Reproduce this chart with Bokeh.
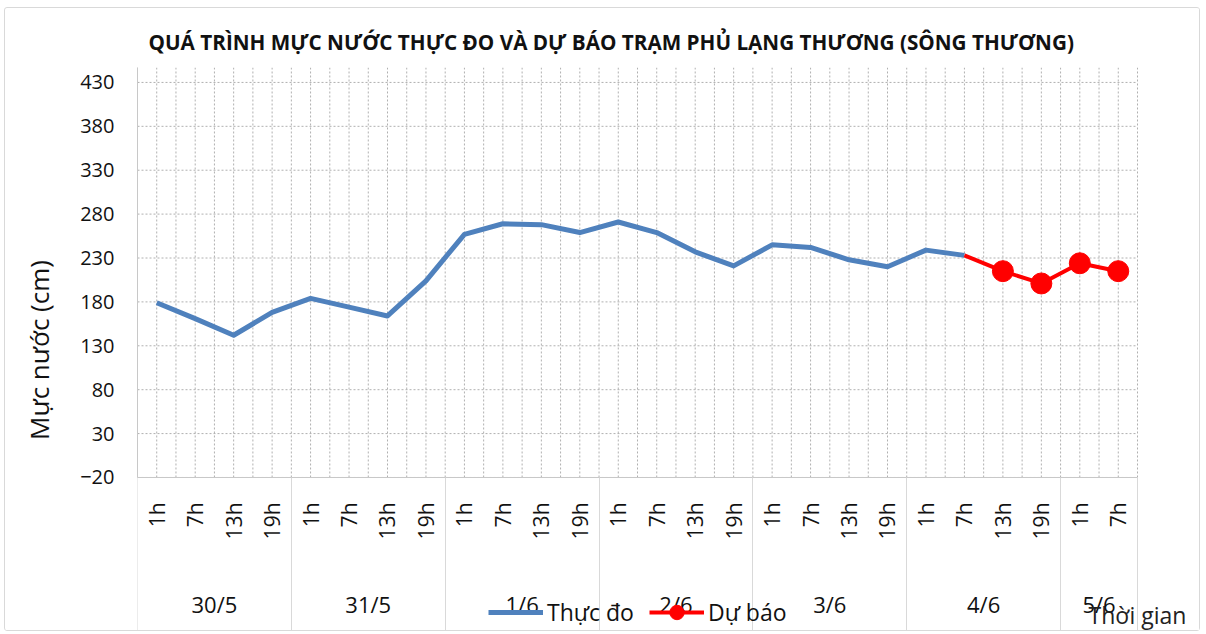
import math
from bokeh.plotting import figure
from bokeh.models import (Range1d, LinearAxis, FixedTicker, Legend, LegendItem)
from bokeh.embed import file_html
from bokeh.resources import INLINE

# ---------------- data ----------------
days = ["30/5", "31/5", "1/6", "2/6", "3/6", "4/6", "5/6"]
day_hours = [
    ["1h", "7h", "13h", "19h"],
    ["1h", "7h", "13h", "19h"],
    ["1h", "7h", "13h", "19h"],
    ["1h", "7h", "13h", "19h"],
    ["1h", "7h", "13h", "19h"],
    ["1h", "7h", "13h", "19h"],
    ["1h", "7h"],
]
observed = [179, 161, 142, 168, 184, 174, 164, 204, 257, 269, 268, 259,
            271, 259, 237, 221, 245, 242, 228, 220, 239, 233]
forecast_start = 21          # index of the first forecast category
forecast = [233, 215, 201, 224, 215]
y_ticks = [-20, 30, 80, 130, 180, 230, 280, 330, 380, 430]

title_text = "QUÁ TRÌNH MỰC NƯỚC THỰC ĐO VÀ DỰ BÁO TRẠM PHỦ LẠNG THƯƠNG (SÔNG THƯƠNG)"
y_label = "Mực nước (cm)"
x_label = "Thời gian"
obs_name = "Thực đo"
fc_name = "Dự báo"

# ---------------- derived category positions ----------------
hour_labels = [h for hs in day_hours for h in hs]
n_cat = len(hour_labels)
centers = [i + 0.5 for i in range(n_cat)]
bounds = [0]
for hs in day_hours:
    bounds.append(bounds[-1] + len(hs))
group_centers = [(bounds[i] + bounds[i + 1]) / 2 for i in range(len(days))]
half_steps = [k / 2 for k in range(2 * n_cat + 1)]

obs_x = centers[:len(observed)]
fc_x = centers[forecast_start:forecast_start + len(forecast)]

FONT = "Open Sans"
GRID_COLOR = "#b0b0b0"
AXIS_COLOR = "#c8c8c8"
TXT = "#111111"

# The frame runs down to the bottom and out to the right edge of the chart so
# that the category labels, legend and x title are drawn inside it; the plot
# area proper is x 0..n_cat, y y_ticks[0]..Y_TOP.
Y_TOP = 447
AXIS_ZONE = 155                      # px below the plot area for category labels
PX_PER_UNIT = 395 / 450              # 430 -> 82 px, -20 -> 477 px
Y_BOTTOM = y_ticks[0] - AXIS_ZONE / PX_PER_UNIT
PX_PER_CAT = 1000 / n_cat
RIGHT_ZONE = 64                      # px right of the plot area
X_END = n_cat + RIGHT_ZONE / PX_PER_CAT

p = figure(width=1196, height=624, output_backend="svg", toolbar_location=None,
           x_range=Range1d(0, X_END), y_range=Range1d(Y_BOTTOM, Y_TOP),
           x_axis_type=None, y_axis_type=None,
           min_border_left=132, min_border_right=0, min_border_top=59,
           min_border_bottom=0)
p.outline_line_color = None
p.background_fill_color = "white"
p.border_fill_color = "white"
p.styles = {"border": "1px solid #d9d9d9", "border-radius": "3px",
            "margin-left": "4px", "margin-top": "7px"}

# title
p.title.text = title_text
p.title.align = "left"
p.title.offset = 11
p.title.text_font = FONT
p.title.text_font_size = "20.7px"
p.title.text_font_style = "bold"
p.title.text_color = TXT
p.title.standoff = 23

# dotted grid lines limited to the plot area
p.segment(x0=[0] * len(y_ticks), y0=y_ticks, x1=[n_cat] * len(y_ticks), y1=y_ticks,
          line_color=GRID_COLOR, line_dash="2 2", line_width=1, level="underlay")
p.segment(x0=half_steps, y0=[y_ticks[0]] * len(half_steps),
          x1=half_steps, y1=[Y_TOP] * len(half_steps),
          line_color=GRID_COLOR, line_dash="2 2", line_width=1, level="underlay")

# y axis
yaxis = LinearAxis(ticker=FixedTicker(ticks=y_ticks, minor_ticks=[]),
                   axis_label=y_label, bounds=(y_ticks[0], Y_TOP))
yaxis.axis_line_color = AXIS_COLOR
yaxis.major_tick_line_color = None
yaxis.major_tick_out = 0
yaxis.major_tick_in = 0
yaxis.minor_tick_line_color = None
yaxis.minor_tick_out = 0
yaxis.minor_tick_in = 0
yaxis.major_label_standoff = 23
yaxis.major_label_text_font = FONT
yaxis.major_label_text_font_size = "20px"
yaxis.major_label_text_color = TXT
yaxis.axis_label_text_font = FONT
yaxis.axis_label_text_font_size = "26px"
yaxis.axis_label_text_font_style = "normal"
yaxis.axis_label_text_color = TXT
yaxis.axis_label_standoff = 20
p.add_layout(yaxis, "left")

# hour axis (first level) at the bottom of the plot area;
# its long minor ticks are the day separators
hour_axis = LinearAxis(
    ticker=FixedTicker(ticks=centers, minor_ticks=bounds),
    major_label_overrides={c: lab for c, lab in zip(centers, hour_labels)},
    fixed_location=y_ticks[0], bounds=(0, n_cat),
)
hour_axis.major_label_orientation = math.pi / 2
hour_axis.axis_line_color = AXIS_COLOR
hour_axis.major_tick_line_color = None
hour_axis.major_tick_out = 0
hour_axis.major_tick_in = 0
hour_axis.minor_tick_in = 0
hour_axis.minor_tick_out = AXIS_ZONE
hour_axis.minor_tick_line_color = "#d9d9d9"
hour_axis.major_label_standoff = 25 - AXIS_ZONE
hour_axis.major_label_text_font = FONT
hour_axis.major_label_text_font_size = "21px"
hour_axis.major_label_text_color = TXT
p.add_layout(hour_axis, "below")

# date axis (second level) with the x-axis title centred on its end
date_axis = LinearAxis(
    ticker=FixedTicker(ticks=group_centers, minor_ticks=[]),
    major_label_overrides={c: d for c, d in zip(group_centers, days)},
    axis_label=x_label,
    fixed_location=y_ticks[0],
    bounds=(0, n_cat),
)
date_axis.axis_line_color = None
date_axis.major_tick_line_color = None
date_axis.major_tick_out = 0
date_axis.major_tick_in = 0
date_axis.minor_tick_line_color = None
date_axis.minor_tick_out = 0
date_axis.minor_tick_in = 0
date_axis.major_label_standoff = 112
date_axis.major_label_text_font = FONT
date_axis.major_label_text_font_size = "22px"
date_axis.major_label_text_color = TXT
date_axis.axis_label_align = "end"
date_axis.axis_label_standoff = -24
date_axis.axis_label_text_font = FONT
date_axis.axis_label_text_font_size = "23px"
date_axis.axis_label_text_font_style = "normal"
date_axis.axis_label_text_color = "#222222"
p.add_layout(date_axis, "below")

# series
r_obs = p.line(obs_x, observed, line_width=5, line_color="#4F81BD",
               line_join="round")
r_fc_line = p.line(fc_x, forecast, line_width=4, line_color="#FF0000",
                   line_join="round")
r_fc_pts = p.scatter(fc_x[1:], forecast[1:], size=21, fill_color="#FF0000",
                     line_color="#FF0000")

legend = Legend(items=[LegendItem(label=obs_name, renderers=[r_obs]),
                       LegendItem(label=fc_name, renderers=[r_fc_line, r_fc_pts])],
                orientation="horizontal", location=(351, 2))
legend.background_fill_alpha = 0
legend.border_line_color = None
legend.label_text_font = FONT
legend.label_text_font_size = "23px"
legend.label_text_color = TXT
legend.glyph_width = 55
legend.glyph_height = 36
legend.label_standoff = 4
legend.spacing = 15
legend.padding = 0
legend.margin = 0
p.add_layout(legend, "center")

open("out.html", "w").write(file_html(p, INLINE))
